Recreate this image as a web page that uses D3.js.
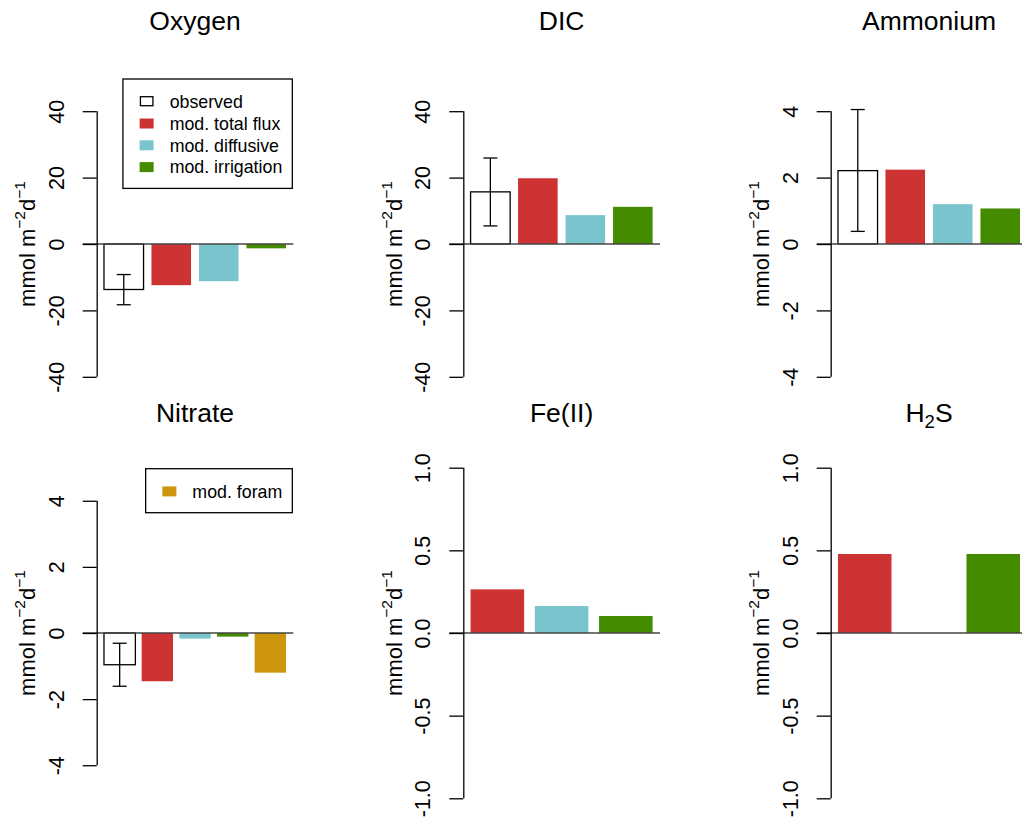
<!DOCTYPE html>
<html>
<head>
<meta charset="utf-8">
<script src="https://cdn.jsdelivr.net/npm/d3@7"></script>
<style>
  html, body { margin: 0; padding: 0; background: #ffffff; }
  svg { display: block; }
</style>
</head>
<body>
<script>
// ---------------- DATA ----------------
const categories = ["observed", "mod. total flux", "mod. diffusive", "mod. irrigation", "mod. foram"];

const oxygenValues   = [-13.7, -12.4, -11.2, -1.3];
const oxygenError    = [-9.2, -18.3];
const dicValues      = [15.7, 19.8, 8.7, 11.2];
const dicError       = [25.9, 5.45];
const ammoniumValues = [2.21, 2.24, 1.2, 1.07];
const ammoniumError  = [4.05, 0.38];
const nitrateValues  = [-0.96, -1.46, -0.17, -0.11, -1.2];
const nitrateError   = [-0.31, -1.61];
const feValues       = [0.264, 0.163, 0.103];          // total, diffusive, irrigation
const h2sValues      = [0.478, 0.0, 0.478];            // total, diffusive, irrigation

const ticksRow1Big   = [-40, -20, 0, 20, 40];
const ticksSmall4    = [-4, -2, 0, 2, 4];
const ticksUnit      = [-1.0, -0.5, 0.0, 0.5, 1.0];

// ---------------- STYLE ----------------
const catColor = {
  "observed": "#ffffff",
  "mod. total flux": "#CD3333",
  "mod. diffusive": "#7AC5CD",
  "mod. irrigation": "#458B00",
  "mod. foram": "#CD950C"
};
const FONT = "'Liberation Sans', Arial, Helvetica, sans-serif";

const W = 1022, H = 818;
const svg = d3.select("body").append("svg")
  .attr("width", W).attr("height", H)
  .style("font-family", FONT);

const colAxisX = [96.7, 463.3, 830.7];
const plotW = 196.6;
const rows = [
  { top: 78, bottom: 410, titleY: 29.5 },
  { top: 467.7, bottom: 798.3, titleY: 422 }
];

const panels = [
  { title: "Oxygen", row: 0, col: 0, values: oxygenValues, cats: categories.slice(0, 4), err: oxygenError,
    domain: [-50, 50], ticks: ticksRow1Big, fmt: d => String(d), legend: categories.slice(0, 4) },
  { title: "DIC", row: 0, col: 1, values: dicValues, cats: categories.slice(0, 4), err: dicError,
    domain: [-50, 50], ticks: ticksRow1Big, fmt: d => String(d) },
  { title: "Ammonium", row: 0, col: 2, values: ammoniumValues, cats: categories.slice(0, 4), err: ammoniumError,
    domain: [-5, 5], ticks: ticksSmall4, fmt: d => String(d) },
  { title: "Nitrate", row: 1, col: 0, values: nitrateValues, cats: categories.slice(0, 5), err: nitrateError,
    domain: [-5, 5], ticks: ticksSmall4, fmt: d => String(d), legend: [categories[4]] },
  { title: "Fe(II)", row: 1, col: 1, values: feValues, cats: categories.slice(1, 4), err: null,
    domain: [-1, 1], ticks: ticksUnit, fmt: d => d.toFixed(1) },
  { title: "H2S", row: 1, col: 2, values: h2sValues, cats: categories.slice(1, 4), err: null,
    domain: [-1, 1], ticks: ticksUnit, fmt: d => d.toFixed(1) }
];

function drawPanel(p) {
  const ax = colAxisX[p.col];
  const r = rows[p.row];
  const g = svg.append("g");

  const y = d3.scaleLinear().domain(p.domain).range([r.bottom, r.top]);
  const n = p.values.length;
  const xlo = 0.2, xhi = 1.2 * n, ext = 0.04 * (xhi - xlo);
  const x = d3.scaleLinear().domain([xlo - ext, xhi + ext]).range([ax, ax + plotW]);

  // bars
  g.selectAll("rect.bar").data(p.values.map((v, i) => ({ v, i, cat: p.cats[i] })))
    .join("rect")
    .attr("class", "bar")
    .attr("x", d => x(0.2 + 1.2 * d.i))
    .attr("width", d => x(1.2 + 1.2 * d.i) - x(0.2 + 1.2 * d.i))
    .attr("y", d => y(Math.max(0, d.v)))
    .attr("height", d => Math.abs(y(d.v) - y(0)))
    .attr("fill", d => catColor[d.cat])
    .attr("stroke", d => d.cat === "observed" ? "#000" : "none")
    .attr("stroke-width", 1.3);

  // zero line
  g.append("line")
    .attr("x1", ax - 14).attr("x2", ax + plotW)
    .attr("y1", y(0)).attr("y2", y(0))
    .attr("stroke", "#444").attr("stroke-width", 1.5);

  // error bar on observed
  if (p.err) {
    const cx = x(0.7);
    const eg = g.append("g").attr("stroke", "#000").attr("stroke-width", 1.3);
    eg.append("line").attr("x1", cx).attr("x2", cx).attr("y1", y(p.err[0])).attr("y2", y(p.err[1]));
    p.err.forEach(e => {
      eg.append("line").attr("x1", cx - 7).attr("x2", cx + 7).attr("y1", y(e)).attr("y2", y(e));
    });
  }

  // y axis
  const axis = d3.axisLeft(y).tickValues(p.ticks).tickFormat(p.fmt).tickSize(14).tickSizeOuter(0).tickPadding(0);
  const ag = g.append("g").attr("transform", `translate(${ax},0)`).call(axis);
  const tmin = d3.min(p.ticks), tmax = d3.max(p.ticks);
  ag.select(".domain").attr("d", `M0.5,${y(tmax)}V${y(tmin)}`).attr("stroke", "#000").attr("stroke-width", 1.3);
  ag.selectAll(".tick line").attr("stroke", "#000").attr("stroke-width", 1.3);
  ag.selectAll(".tick text")
    .attr("x", null).attr("dy", null)
    .attr("transform", "translate(-33,0) rotate(-90)")
    .attr("text-anchor", "middle")
    .attr("fill", "#000")
    .style("font-family", FONT)
    .style("font-size", "21.5px");

  // y label
  const cy = (r.top + r.bottom) / 2;
  const lab = g.append("text")
    .attr("transform", `translate(${ax - 61.7},${cy}) rotate(-90)`)
    .attr("text-anchor", "middle")
    .style("font-size", "22px")
    .attr("fill", "#000");
  lab.append("tspan").text("mmol m");
  lab.append("tspan").attr("dy", -10).style("font-size", "15.5px").text("\u22122");
  lab.append("tspan").attr("dy", 10).text("d");
  lab.append("tspan").attr("dy", -10).style("font-size", "15.5px").text("\u22121");

  // title
  const t = g.append("text")
    .attr("x", ax + plotW / 2).attr("y", r.titleY)
    .attr("text-anchor", "middle")
    .style("font-size", "26.5px")
    .attr("fill", "#000");
  if (p.title === "H2S") {
    t.append("tspan").text("H");
    t.append("tspan").attr("dy", 6).style("font-size", "18.5px").text("2");
    t.append("tspan").attr("dy", -6).text("S");
  } else {
    t.text(p.title);
  }

  // legend
  if (p.legend) {
    const rowH = 21.8;
    const top = r.top + 1;
    const lg = g.append("g");
    const texts = p.legend.map((c, i) => lg.append("text")
      .attr("x", 0).attr("y", top + 22.7 + i * rowH)
      .attr("dy", "0.35em")
      .style("font-size", "17.8px")
      .attr("fill", "#000")
      .text(c));
    const tw = d3.max(texts, tnode => tnode.node().getComputedTextLength());
    const boxW = 46.7 + tw + 10;
    const boxH = 22 + (p.legend.length - 1) * rowH + 22;
    const right = ax + plotW - 1;
    const left = right - boxW;
    lg.insert("rect", ":first-child")
      .attr("x", left).attr("y", top).attr("width", boxW).attr("height", boxH)
      .attr("fill", "#fff").attr("stroke", "#000").attr("stroke-width", 1.3);
    texts.forEach(tnode => tnode.attr("x", left + 46.7));
    lg.selectAll("rect.sw").data(p.legend).join("rect")
      .attr("class", "sw")
      .attr("x", d => d === "observed" ? left + 17.5 : left + 16.7)
      .attr("y", (d, i) => top + 22.7 + i * rowH - 5)
      .attr("width", d => d === "observed" ? 12.5 : 14)
      .attr("height", d => d === "observed" ? 9 : 10)
      .attr("fill", d => catColor[d])
      .attr("stroke", d => d === "observed" ? "#000" : "none")
      .attr("stroke-width", 1.3);
  }
}

panels.forEach(drawPanel);
</script>
</body>
</html>
